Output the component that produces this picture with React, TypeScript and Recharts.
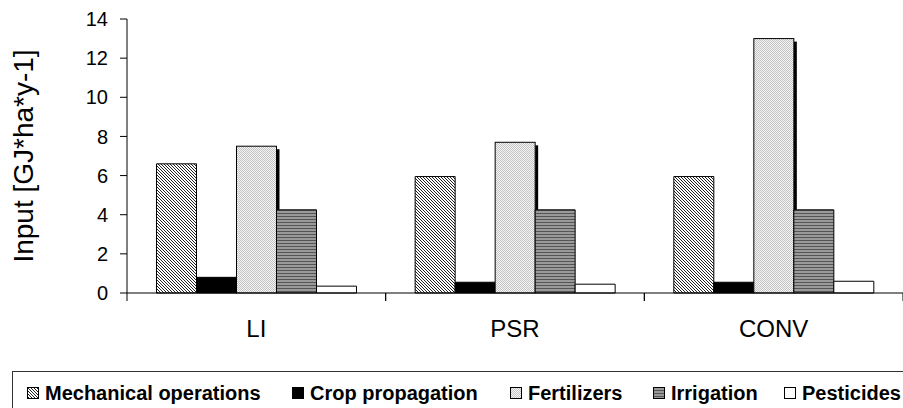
import { Bar, BarChart, XAxis, YAxis } from 'recharts'

const categories = ['LI', 'PSR', 'CONV']
const mechanical = [6.6, 5.95, 5.95]
const cropPropagation = [0.8, 0.55, 0.55]
const fertilizers = [7.5, 7.7, 13.0]
const irrigation = [4.25, 4.25, 4.25]
const pesticides = [0.35, 0.45, 0.6]
const yTicks = [0, 2, 4, 6, 8, 10, 12, 14]

const data = categories.map((c, i) => ({
  name: c,
  mech: mechanical[i],
  crop: cropPropagation[i],
  fert: fertilizers[i],
  irr: irrigation[i],
  pest: pesticides[i],
}))

const FONT = '"Liberation Sans", Arial, sans-serif'
const CHART_W = 903
const CHART_H = 345
const MARGIN = { top: 19, right: 0, bottom: 12, left: 67 }
const YAXIS_W = 60
const HALF_BAND = (CHART_W - MARGIN.left - MARGIN.right - YAXIS_W) / categories.length / 2
// left edge of each legend swatch, as laid out in the original legend box
const LEGEND_X = [27, 292, 510, 653, 784]

const series = [
  { key: 'mech', name: 'Mechanical operations', fill: 'url(#pat-mech)' },
  { key: 'crop', name: 'Crop propagation', fill: '#000' },
  { key: 'fert', name: 'Fertilizers', fill: 'url(#pat-fert)' },
  { key: 'irr', name: 'Irrigation', fill: 'url(#pat-irr)' },
  { key: 'pest', name: 'Pesticides', fill: '#fff' },
]

function CategoryTick(props: any) {
  const { x, y, payload } = props
  return (
    <g>
      <line x1={x - HALF_BAND} x2={x - HALF_BAND} y1={y} y2={y + 8} stroke="#000" />
      <line x1={x + HALF_BAND} x2={x + HALF_BAND} y1={y} y2={y + 8} stroke="#000" />
      <text x={x} y={y + 44} textAnchor="middle" fontSize={24} fill="#000" fontFamily={FONT}>
        {payload.value}
      </text>
    </g>
  )
}

// fertilizer bars carry a small black drop shadow on the right in the original
function ShadowBar(props: any) {
  const { x, y, width, height, fill } = props
  return (
    <g>
      <rect x={x + width} y={y + 3} width={3} height={Math.max(0, height - 3)} fill="#000" />
      <rect x={x} y={y} width={width} height={height} fill={fill} stroke="#000" strokeWidth={1} />
    </g>
  )
}

function YLabel() {
  return (
    <text
      x={33}
      y={156}
      transform="rotate(-90 33 156)"
      textAnchor="middle"
      fontSize={28}
      fill="#000"
      fontFamily={FONT}
    >
      Input [GJ*ha*y-1]
    </text>
  )
}

function Patterns() {
  return (
    <svg width={0} height={0} style={{ position: 'absolute' }}>
      <defs>
        <pattern id="pat-mech" width={3} height={3} patternUnits="userSpaceOnUse">
          <rect width={3} height={3} fill="#fff" />
          <path d="M0,0 l3,3 M-1,2 l2,2 M2,-1 l2,2" stroke="#222" strokeWidth={1} />
        </pattern>
        <pattern id="pat-fert" width={2} height={2} patternUnits="userSpaceOnUse">
          <rect width={2} height={2} fill="#f4f4f4" />
          <rect width={1} height={1} fill="#c4c4c4" />
          <rect x={1} y={1} width={1} height={1} fill="#c4c4c4" />
        </pattern>
        <pattern id="pat-irr" width={3} height={3} patternUnits="userSpaceOnUse">
          <rect width={3} height={3} fill="#9a9a9a" />
          <rect width={3} height={1} fill="#555" />
        </pattern>
      </defs>
    </svg>
  )
}

export default function App() {
  return (
    <div
      style={{
        position: 'absolute',
        left: 0,
        top: 0,
        width: 903,
        height: 408,
        overflow: 'hidden',
        background: '#fff',
        fontFamily: FONT,
      }}
    >
      <Patterns />
      <BarChart
        width={CHART_W}
        height={CHART_H}
        data={data}
        margin={MARGIN}
        barCategoryGap="11.4%"
        barGap={0}
      >
        <XAxis
          dataKey="name"
          axisLine={{ stroke: '#000' }}
          tickLine={false}
          tickSize={0}
          tickMargin={0}
          height={40}
          tick={<CategoryTick />}
          interval={0}
        />
        <YAxis
          width={YAXIS_W}
          domain={[0, 14]}
          ticks={yTicks}
          axisLine={{ stroke: '#000' }}
          tickLine={{ stroke: '#000' }}
          tickSize={7}
          tickMargin={12}
          tick={{ fontSize: 20, fill: '#000', fontFamily: FONT }}
          label={<YLabel />}
        />
        {series.map((s) => (
          <Bar
            key={s.key}
            dataKey={s.key}
            name={s.name}
            fill={s.fill}
            stroke="#000"
            strokeWidth={1}
            shape={s.key === 'fert' ? <ShadowBar /> : undefined}
            isAnimationActive={false}
          />
        ))}
      </BarChart>
      <div
        style={{
          position: 'absolute',
          left: 12,
          top: 371,
          width: 940,
          height: 44,
          border: '1px solid #333',
          boxSizing: 'border-box',
        }}
      />
      {series.map((s, i) => (
        <div
          key={s.key}
          style={{
            position: 'absolute',
            left: LEGEND_X[i],
            top: 380,
            height: 26,
            display: 'flex',
            alignItems: 'center',
            whiteSpace: 'nowrap',
            fontWeight: 'bold',
            fontSize: 20,
            color: '#000',
          }}
        >
          <svg width={12} height={12} style={{ marginRight: 6 }}>
            <rect x={0.5} y={0.5} width={11} height={11} fill={s.fill} stroke="#000" />
          </svg>
          <span>{s.name}</span>
        </div>
      ))}
    </div>
  )
}
